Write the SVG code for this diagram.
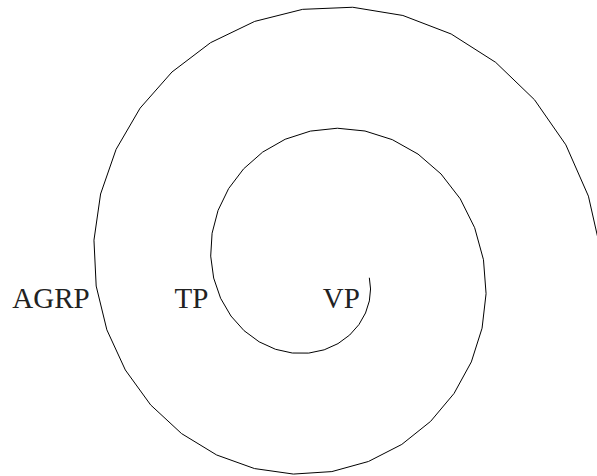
<svg xmlns="http://www.w3.org/2000/svg" width="597" height="476" viewBox="0 0 597 476">
<style>
.lbl{font-family:"Liberation Serif","Times New Roman",serif;font-size:29px;fill:#222222}
.spiral{fill:none;stroke:#000000;stroke-width:1;stroke-linejoin:miter}
</style>
<rect x="0" y="0" width="597" height="476" fill="#ffffff"/>
<g id="connectors">
<polyline class="spiral" points="369.33,277.74 370.56,288.97 369.37,300.92 365.52,312.99 358.94,324.57 349.70,335.00 338.00,343.62 324.19,349.82 308.76,353.09 292.30,353.02 275.52,349.30 259.17,341.83 244.05,330.66 230.95,316.00 220.60,298.28 213.66,278.07 210.70,256.10 212.09,233.22 218.05,210.38 228.62,188.58 243.62,168.83 262.66,152.09 285.16,139.25 310.36,131.10 337.33,128.22 365.02,131.01 392.32,139.66 418.04,154.10 441.05,174.01 460.26,198.82 474.67,227.73 483.48,259.74 486.07,293.67 482.07,328.19 471.33,361.92 454.05,393.45 430.62,421.37 401.78,444.43 368.48,461.47 331.89,471.58 293.39,474.07 254.45,468.55 216.64,454.97 181.54,433.57 150.64,404.93 125.34,369.97 106.86,329.86 96.18,286.05 93.96,240.17 100.58,194.00 116.08,149.37 140.10,108.13 171.94,72.02 210.58,42.66 254.69,21.40 302.66,9.34 352.70,7.25 402.87,15.47 451.19,34.00 495.68,62.36 534.47,99.73 565.85,144.85 588.41,196.15 600.97,251.76"/>
</g>
<g id="AGRP"><text class="lbl" x="12.3" y="308">AGRP</text></g>
<g id="TP"><text class="lbl" x="174.5" y="308">TP</text></g>
<g id="VP"><text class="lbl" x="322.8" y="308">VP</text></g>
</svg>
